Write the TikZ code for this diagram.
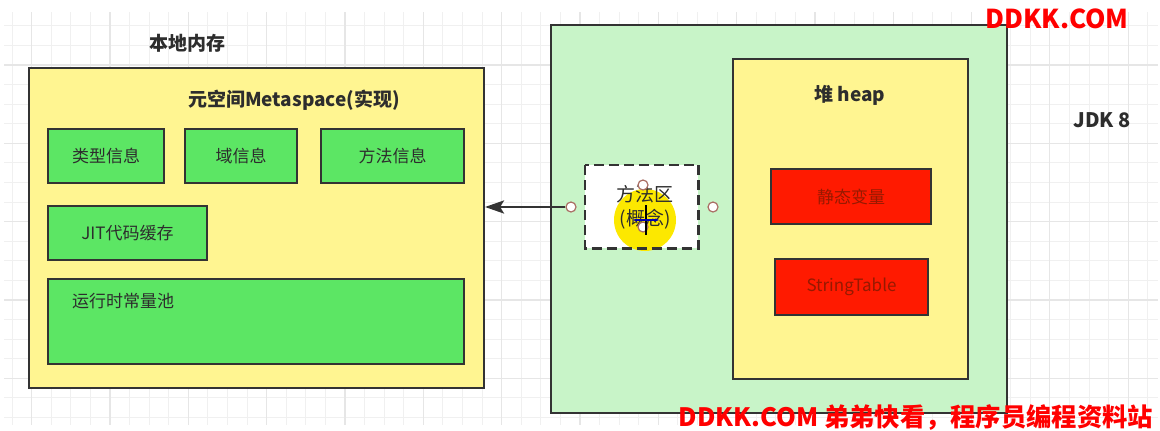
\documentclass[tikz,border=0pt]{standalone}
\usepackage{fontspec}
\setmainfont{Noto Sans CJK SC}
\usetikzlibrary{arrows.meta}
\definecolor{bordc}{RGB}{51,51,51}
\definecolor{txtc}{RGB}{45,45,45}
\definecolor{yellowc}{RGB}{255,245,145}
\definecolor{greenc}{RGB}{92,230,100}
\definecolor{lgreenc}{RGB}{200,244,200}
\definecolor{redc}{RGB}{255,26,0}
\definecolor{redtxt}{RGB}{150,25,0}
\definecolor{wmred}{RGB}{255,0,0}
\definecolor{gridthinc}{RGB}{240,240,240}
\definecolor{gridthickc}{RGB}{230,230,230}
\definecolor{ptc}{RGB}{170,110,100}
\definecolor{hiliteyc}{RGB}{252,232,0}
\begin{document}
\begin{tikzpicture}[x=1pt,y=-1pt,
  gthin/.style={draw=gridthinc, line width=1pt},
  gthick/.style={draw=gridthickc, line width=1.2pt},
  box/.style={draw=bordc, line width=2pt, inner sep=0pt, anchor=north west, text=txtc,
    font=\fontsize{17}{20}\selectfont},
  ybox/.style={box, fill=yellowc},
  gbox/.style={box, fill=greenc},
  lgbox/.style={box, fill=lgreenc},
  rbox/.style={box, fill=redc, text=redtxt},
  lbl/.style={inner sep=0pt, text=txtc, font=\fontsize{17}{20}\selectfont},
  title/.style={inner sep=0pt, text=txtc, font=\fontsize{19}{22}\selectfont\bfseries},
  pt/.style={circle, draw=ptc, fill=white, line width=1.2pt, minimum size=10pt, inner sep=0pt},
  arrowc/.style={draw=bordc, line width=2.7pt, -{Stealth[length=19pt,width=13pt,inset=4pt]}},
  wm/.style={inner sep=0pt, text=wmred, font=\bfseries}
]
\useasboundingbox (0,0) rectangle (1160,431);
\fill[white] (0,0) rectangle (1160,431);

% background grid
\begin{scope}
  \clip (4,12) rectangle (1158,425);
  \foreach \k in {-1,...,57} \draw[gthin] ({31.7+19.58*\k},12) -- ++(0,413);
  \foreach \k in {-2,...,18} \draw[gthin] (4,{65+19.58*\k}) -- ++(1154,0);
  \foreach \k in {0,4,...,56} \draw[gthick] ({31.7+19.58*\k},12) -- ++(0,413);
  \foreach \k in {0,4,...,16} \draw[gthick] (4,{65+19.58*\k}) -- ++(1154,0);
\end{scope}

% native memory / metaspace
\node[title] (memlbl) at (187,43) {本地内存};
\node[ybox, minimum width=455pt, minimum height=320pt] (mem) at (28,67) {};
\node[title] (metalbl) at (294,100) {元空间Metaspace(实现)};
\node[gbox, minimum width=116pt, minimum height=54pt] (t1) at (47,128) {类型信息};
\node[gbox, minimum width=112pt, minimum height=54pt] (t2) at (184,128) {域信息};
\node[gbox, minimum width=143pt, minimum height=54pt] (t3) at (320,128) {方法信息};
\node[gbox, minimum width=159pt, minimum height=54pt] (jit) at (47,205) {JIT代码缓存};
\node[gbox, minimum width=416pt, minimum height=85pt] (pool) at (47,278) {};
\node[lbl, anchor=west] (pooltxt) at (72,301) {运行时常量池};

% JVM side
\node[lgbox, minimum width=456pt, minimum height=388pt] (jvm) at (550,24) {};
\node[ybox, minimum width=235pt, minimum height=320pt] (heap) at (732,58) {};
\node[title] (heaplbl) at (850,95) {堆 heap};
\node[rbox, minimum width=160pt, minimum height=55pt] (sv) at (770,168) {静态变量};
\node[rbox, minimum width=153pt, minimum height=56pt] (st) at (774,258) {StringTable};

% method area (concept)
\node[anchor=north west, fill=white, inner sep=0pt, minimum width=113pt, minimum height=83pt] (ma) at (585,165) {};
\fill[hiliteyc] (645,220) circle (31);
\draw[draw=bordc, line width=2.5pt, dash pattern=on 10pt off 5pt] (ma.north west) rectangle (ma.south east);
\node[inner sep=0pt, text=txtc, align=center, font=\fontsize{19}{24}\selectfont] (matxt) at (645,207) {方法区\\(概念)};

% connection points and cursor
\node[pt] (p1) at (571,207) {};
\node[pt] (p2) at (643,185) {};
\node[pt] (p3) at (713,207) {};
\node[pt] (p4) at (643,227) {};
\draw[black, line width=1.5pt] (646,205) -- (646,235);
\draw[blue!70!black, line width=1.2pt, {Stealth[length=4pt]}-{Stealth[length=4pt]}] (633,220) -- (659,220);

% arrow
\draw[arrowc] (p1) -- (p1 -| mem.east);

% labels
\node[title, font=\fontsize{20}{24}\selectfont\bfseries] (jdk) at (1102,120) {JDK 8};
\node[wm, font=\fontsize{26}{30}\selectfont\bfseries] (wm1) at (1057,19) {DDKK.COM};
\node[wm, font=\fontsize{25.3}{29}\selectfont\bfseries] (wm2) at (916,418) {DDKK.COM 弟弟快看，程序员编程资料站};
\end{tikzpicture}
\end{document}
